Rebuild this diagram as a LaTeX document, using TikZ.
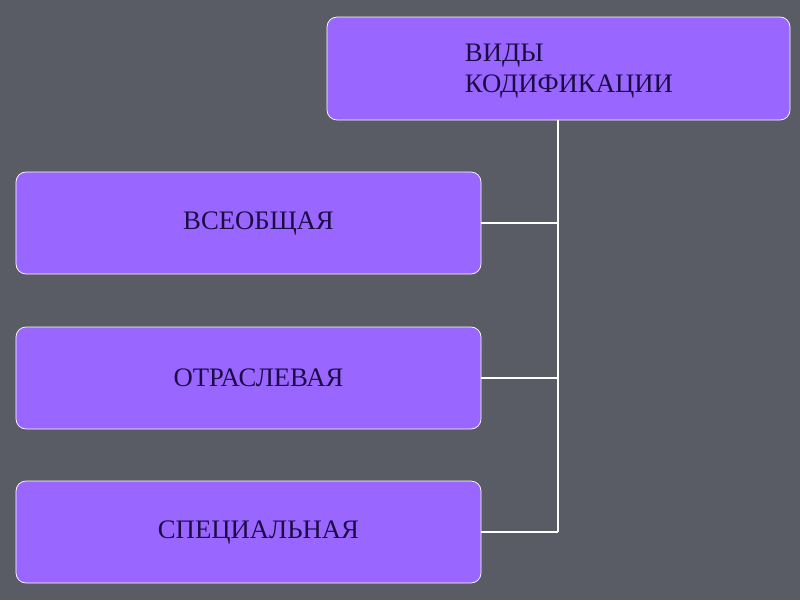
\documentclass[tikz,border=0pt]{standalone}
\usepackage{fontspec}
\setmainfont{Liberation Serif}
\definecolor{bggray}{RGB}{89,91,101}
\definecolor{boxviolet}{RGB}{153,102,255}
\definecolor{txtnavy}{RGB}{28,12,70}
\usetikzlibrary{positioning,calc}

\begin{document}
\begin{tikzpicture}[x=0.25mm, y=-0.25mm,
        kindbox/.style={rectangle, rounded corners=2.5mm, draw=white, line width=0.5pt,
                        fill=boxviolet, minimum width=116.25mm, minimum height=25.5mm,
                        font=\fontsize{19}{22}\selectfont, text=txtnavy, align=center},
        link/.style={white, line width=1pt}
      ]
        % background
        \fill[bggray] (0,0) rectangle (800,600);
        \useasboundingbox (0,0) rectangle (800,600);

        % Top box
        \node[kindbox, minimum width=115.75mm, minimum height=25.75mm] (kinds) at (558.5, 68.5) {};
        \node[font=\fontsize{19}{22.5}\selectfont, text=txtnavy, align=left, anchor=west]
          at (460, 71) {ВИДЫ\\КОДИФИКАЦИИ};

        % Three kinds
        \node[kindbox] (general) at (248.5, 223) {\hspace*{5mm}\raisebox{-0.6mm}{ВСЕОБЩАЯ}};
        \node[kindbox] (branch)  at (248.5, 378) {\hspace*{5mm}\raisebox{-0.6mm}{ОТРАСЛЕВАЯ}};
        \node[kindbox] (special) at (248.5, 532) {\hspace*{5mm}\raisebox{-0.6mm}{СПЕЦИАЛЬНАЯ}};

        % Connectors
        \coordinate (trunk) at (558, 532);
        \draw[link] (kinds.south -| trunk) -- (trunk);
        \draw[link] (general.east) -- (general.east -| trunk);
        \draw[link] (branch.east)  -- (branch.east -| trunk);
        \draw[link] (special.east) -- (trunk);
      \end{tikzpicture}
\end{document}
